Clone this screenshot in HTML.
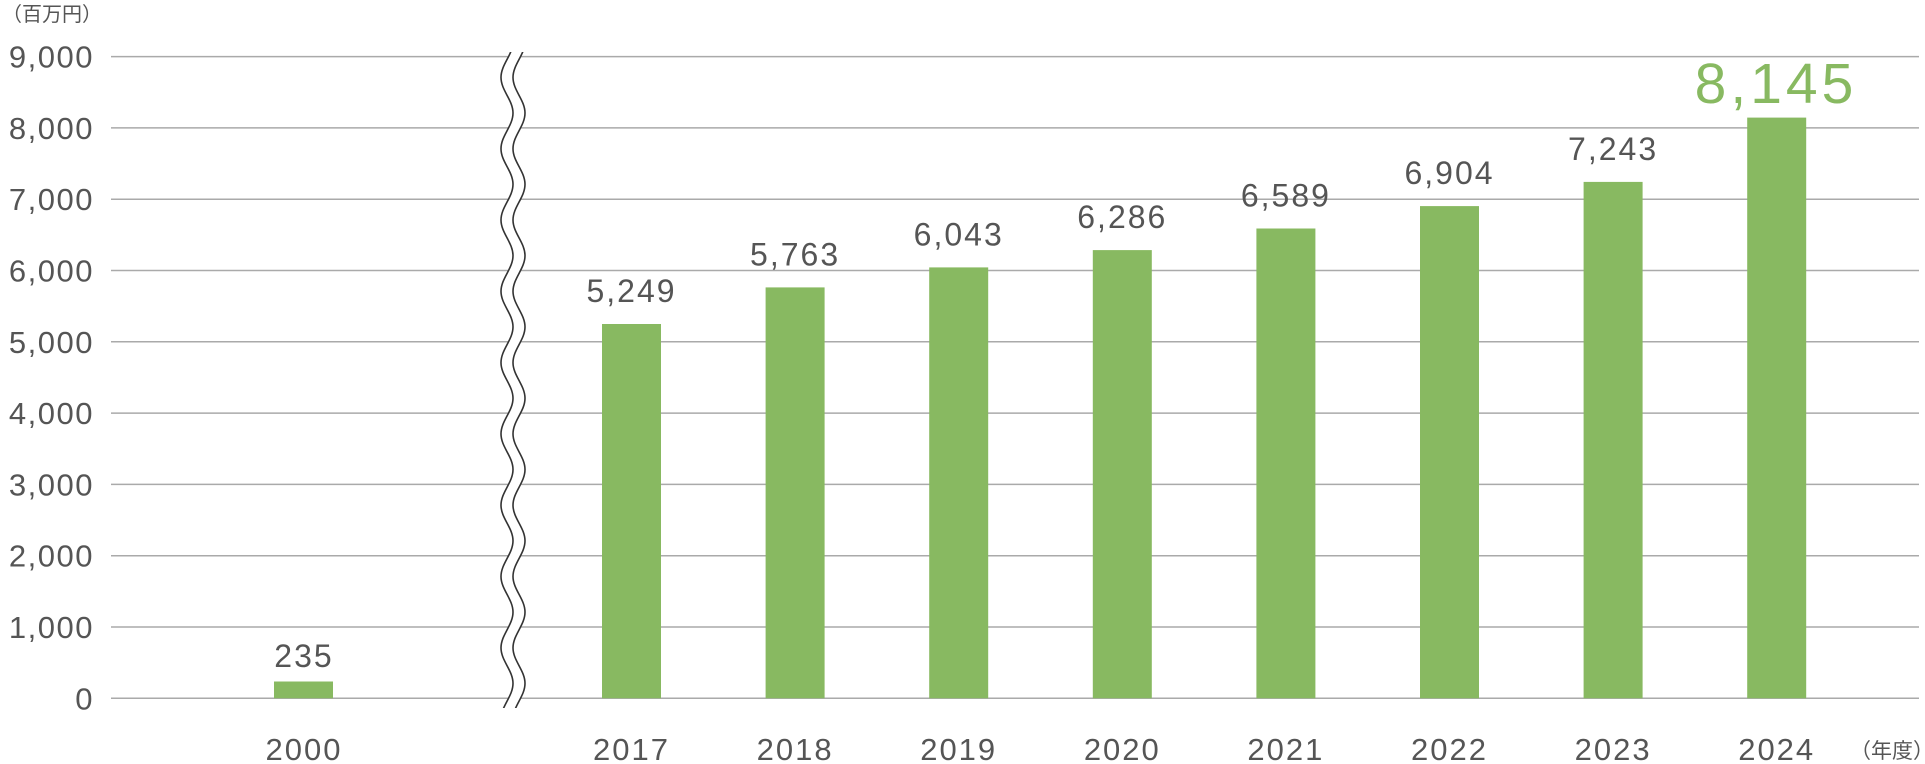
<!DOCTYPE html>
<html><head><meta charset="utf-8"><style>
html,body{margin:0;padding:0;background:#fff;}
svg{display:block;}
text{font-family:"Liberation Sans","Noto Sans CJK JP",sans-serif;fill:#555;}
</style></head><body>
<svg width="1925" height="764" viewBox="0 0 1925 764" xmlns="http://www.w3.org/2000/svg">
<g stroke="#aaa" stroke-width="1.5">
<line x1="111" x2="1919" y1="56.6" y2="56.6"/>
<line x1="111" x2="1919" y1="127.9" y2="127.9"/>
<line x1="111" x2="1919" y1="199.2" y2="199.2"/>
<line x1="111" x2="1919" y1="270.5" y2="270.5"/>
<line x1="111" x2="1919" y1="341.8" y2="341.8"/>
<line x1="111" x2="1919" y1="413.1" y2="413.1"/>
<line x1="111" x2="1919" y1="484.4" y2="484.4"/>
<line x1="111" x2="1919" y1="555.7" y2="555.7"/>
<line x1="111" x2="1919" y1="627" y2="627"/>
<line x1="111" x2="1919" y1="698.3" y2="698.3"/>
</g>
<g font-size="31" text-anchor="end" letter-spacing="1.5">
<text x="94" y="67.6">9,000</text>
<text x="94" y="138.9">8,000</text>
<text x="94" y="210.2">7,000</text>
<text x="94" y="281.5">6,000</text>
<text x="94" y="352.8">5,000</text>
<text x="94" y="424.1">4,000</text>
<text x="94" y="495.4">3,000</text>
<text x="94" y="566.7">2,000</text>
<text x="94" y="638">1,000</text>
<text x="94" y="709.3">0</text>
</g>
<text x="2" y="21" font-size="20">（百万円）</text>
<defs><clipPath id="c"><rect x="480" y="52" width="80" height="656"/></clipPath></defs>
<g clip-path="url(#c)" fill="none">
<path transform="translate(6,0)" stroke="#fff" stroke-width="11" d="M513 41.7 C513 54.7 501 64.4 501 77.4 S513 100 513 113 S501 135.7 501 148.7 S513 171.3 513 184.3 S501 207 501 220 S513 242.6 513 255.6 S501 278.3 501 291.3 S513 313.9 513 326.9 S501 349.6 501 362.6 S513 385.2 513 398.2 S501 420.9 501 433.9 S513 456.5 513 469.5 S501 492.2 501 505.2 S513 527.8 513 540.8 S501 563.5 501 576.5 S513 599.1 513 612.1 S501 634.8 501 647.8 S513 670.4 513 683.4 S501 706.1 501 719.1"/>
<g stroke="#333" stroke-width="1.6">
<path id="w" d="M513 41.7 C513 54.7 501 64.4 501 77.4 S513 100 513 113 S501 135.7 501 148.7 S513 171.3 513 184.3 S501 207 501 220 S513 242.6 513 255.6 S501 278.3 501 291.3 S513 313.9 513 326.9 S501 349.6 501 362.6 S513 385.2 513 398.2 S501 420.9 501 433.9 S513 456.5 513 469.5 S501 492.2 501 505.2 S513 527.8 513 540.8 S501 563.5 501 576.5 S513 599.1 513 612.1 S501 634.8 501 647.8 S513 670.4 513 683.4 S501 706.1 501 719.1"/>
<use href="#w" transform="translate(12,0)"/>
</g>
</g>
<g fill="#88b961">
<rect x="274" y="681.5" width="59" height="16.8"/>
<rect x="602" y="324" width="59" height="374.3"/>
<rect x="765.6" y="287.4" width="59" height="410.9"/>
<rect x="929.2" y="267.4" width="59" height="430.9"/>
<rect x="1092.8" y="250.1" width="59" height="448.2"/>
<rect x="1256.4" y="228.5" width="59" height="469.8"/>
<rect x="1420" y="206.1" width="59" height="492.2"/>
<rect x="1583.6" y="181.9" width="59" height="516.4"/>
<rect x="1747.2" y="117.6" width="59" height="580.7"/>
</g>
<g font-size="32" text-anchor="middle" letter-spacing="2">
<text x="304" y="667">235</text>
<text x="631.5" y="302">5,249</text>
<text x="795.1" y="265.4">5,763</text>
<text x="958.7" y="245.4">6,043</text>
<text x="1122.3" y="228.1">6,286</text>
<text x="1285.9" y="206.5">6,589</text>
<text x="1449.5" y="184.1">6,904</text>
<text x="1613.1" y="159.9">7,243</text>
</g>
<text x="1776" y="103" font-size="57" text-anchor="middle" letter-spacing="4" style="fill:#88b961">8,145</text>
<g font-size="31" text-anchor="middle" letter-spacing="2">
<text x="304" y="760">2000</text>
<text x="631.5" y="760">2017</text>
<text x="795.1" y="760">2018</text>
<text x="958.7" y="760">2019</text>
<text x="1122.3" y="760">2020</text>
<text x="1285.9" y="760">2021</text>
<text x="1449.5" y="760">2022</text>
<text x="1613.1" y="760">2023</text>
<text x="1776.7" y="760">2024</text>
</g>
<text x="1850" y="758" font-size="21">（年度）</text>
</svg>
</body></html>
